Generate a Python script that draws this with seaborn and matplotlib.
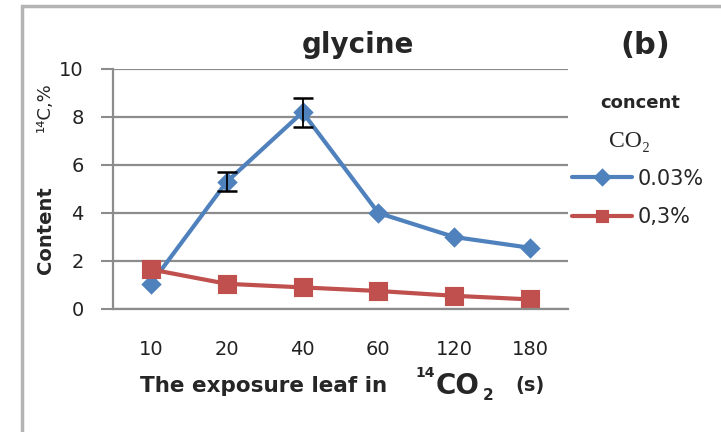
import numpy as np
import pandas as pd
import matplotlib
matplotlib.use("Agg")
import matplotlib.pyplot as plt
import seaborn as sns
from matplotlib.patches import Rectangle
from matplotlib.ticker import FixedLocator

# exposure time categories (s) and glycine 14C content (%)
times = ["10", "20", "40", "60", "120", "180"]
conc_low = [1.05, 5.3, 8.2, 4.0, 3.0, 2.55]     # 0.03% CO2
conc_high = [1.65, 1.05, 0.9, 0.75, 0.55, 0.4]  # 0.3% CO2
err_low = [0.0, 0.4, 0.6, 0.0, 0.0, 0.0]
series_labels = ["0.03%", "0,3%"]
colors = ["#4F81BD", "#C0504D"]

df = pd.DataFrame({
    "time": times * 2,
    "value": conc_low + conc_high,
    "conc": [series_labels[0]] * len(times) + [series_labels[1]] * len(times),
})

sns.set_style("white")
plt.rcParams["font.family"] = ["DejaVu Sans"]

fig = plt.figure(figsize=(7.21, 4.32), dpi=100)
ax = fig.add_axes([113 / 721, 1 - 309 / 432, (568 - 113) / 721, (309 - 69) / 432])

sns.pointplot(data=df, x="time", y="value", hue="conc", order=times,
              hue_order=series_labels, palette=colors, markers=["D", "s"],
              linestyles=["-", "-"], errorbar=None, linewidth=3, ax=ax)
for line, ms in zip(ax.lines[:2], [8, 11]):
    line.set_markersize(ms)

# error bars for the 0.03% series
pos = np.arange(len(times))
mask = np.array(err_low) > 0
ax.errorbar(pos[mask], np.array(conc_low)[mask], yerr=np.array(err_low)[mask],
            fmt="none", ecolor="black", elinewidth=1.3, capsize=7, capthick=1.8, zorder=5)

ax.set_xlim(-0.5, len(times) - 0.5)
ax.set_ylim(0, 10)
ax.set_yticks(range(0, 11, 2))
ax.yaxis.grid(True, color="#8c8c8c", lw=1.6)
ax.xaxis.set_minor_locator(FixedLocator(np.arange(-0.5, len(times), 1)))
ax.tick_params(axis="x", which="major", length=0, pad=22, labelsize=14, labelcolor="#222222")
ax.tick_params(axis="x", which="minor", length=4, width=1.2, color="#8c8c8c", direction="out")
ax.tick_params(axis="y", length=9, width=1.5, color="#8c8c8c", pad=12, labelsize=14,
               labelcolor="#222222", left=True)
for s in ["top", "right"]:
    ax.spines[s].set_visible(False)
for s in ["left", "bottom"]:
    ax.spines[s].set_color("#8c8c8c")
    ax.spines[s].set_linewidth(1.6)
ax.set_xlabel("")
ax.set_ylabel("")

handles, labels = ax.get_legend_handles_labels()
ax.legend(handles, labels, loc="center left", bbox_to_anchor=(572 / 721, 1 - 198 / 432),
          bbox_transform=fig.transFigure, frameon=False, borderpad=0, borderaxespad=0,
          handlelength=2.9, handletextpad=0.25, labelspacing=0.9, fontsize=15)

fig.text(358 / 721, 1 - 45 / 432, "glycine", ha="center", va="center", fontsize=20, fontweight="bold")
fig.text(645 / 721, 1 - 46 / 432, "(b)", ha="center", va="center", fontsize=22, fontweight="bold")
fig.text(640 / 721, 1 - 103 / 432, "concent", ha="center", va="center", fontsize=13, fontweight="bold")
fig.text(630 / 721, 1 - 142 / 432, "CO₂", ha="center", va="center", fontsize=17,
         family=["Liberation Serif", "DejaVu Serif"])

fig.text(45 / 721, 1 - 230 / 432, "Content", rotation=90, ha="center", va="center",
         fontsize=14, fontweight="bold")
fig.text(45 / 721, 1 - 107 / 432, "¹⁴C,%", rotation=90, ha="center", va="center", fontsize=13)

fig.text(140 / 721, 1 - 386 / 432, "The exposure leaf in", ha="left", va="center",
         fontsize=15.5, fontweight="bold")
fig.text(415 / 721, 1 - 373 / 432, "14", ha="left", va="center", fontsize=10, fontweight="bold")
fig.text(436 / 721, 1 - 386 / 432, "CO", ha="left", va="center", fontsize=20, fontweight="bold")
fig.text(483 / 721, 1 - 395 / 432, "2", ha="left", va="center", fontsize=11, fontweight="bold")
fig.text(515 / 721, 1 - 386 / 432, "(s)", ha="left", va="center", fontsize=14, fontweight="bold")

fig.add_artist(Rectangle((22 / 721, -0.1), 1.2, 1.1 - 6 / 432, transform=fig.transFigure,
                         fill=False, ec="#b4b4b4", lw=2.5, clip_on=False))

fig.savefig("out.png", dpi=100)
